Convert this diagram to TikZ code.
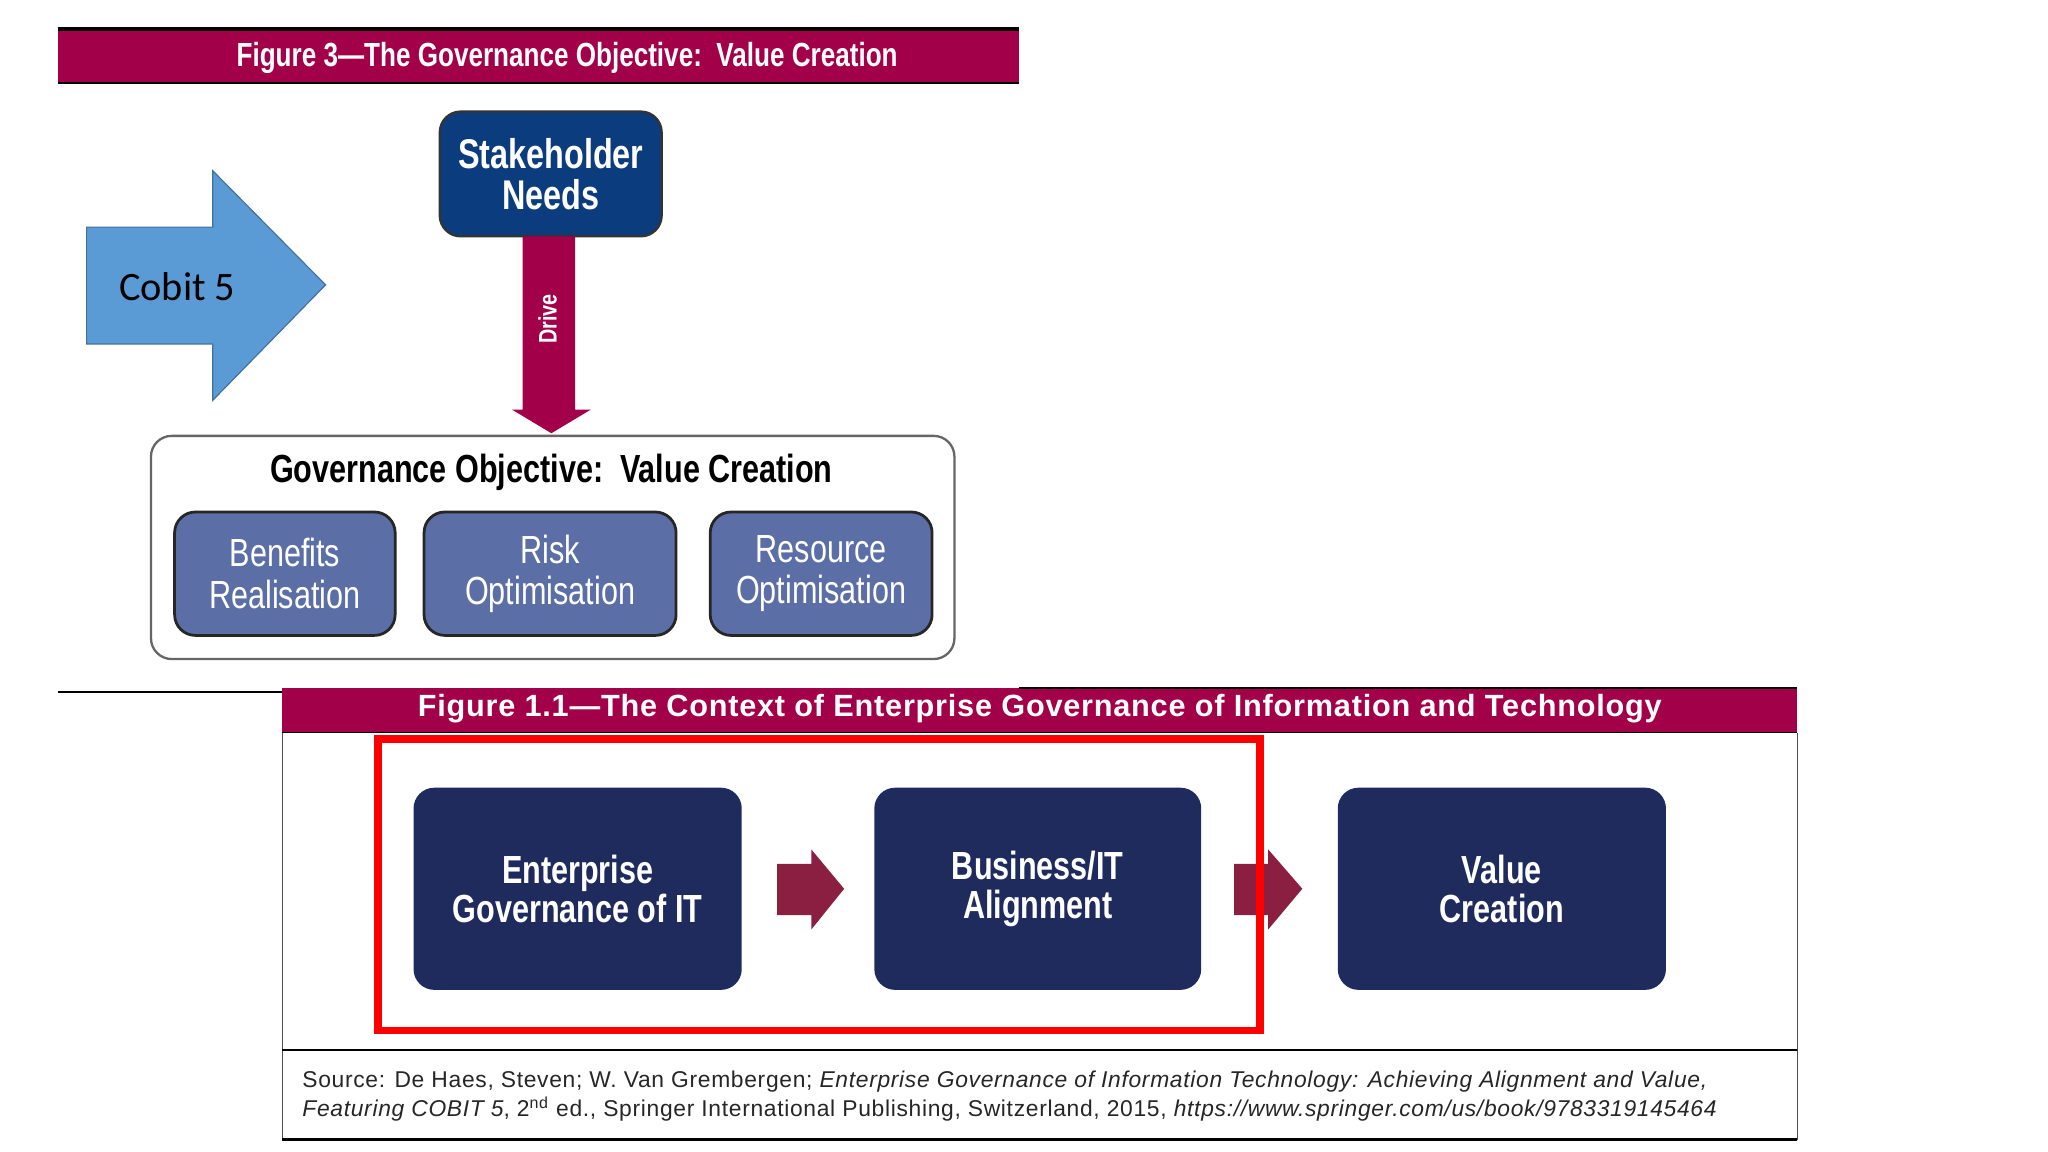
\documentclass[tikz,border=0pt]{standalone}
\usepackage{fontspec}
\setmainfont{Liberation Sans}
\newfontfamily\cond[FakeStretch=0.78]{Liberation Sans}
\newfontfamily\carl{Carlito}
\definecolor{crim}{HTML}{A3004A}
\definecolor{sblue}{HTML}{0B3C7E}
\definecolor{mblue}{HTML}{5B6FA6}
\definecolor{dnavy}{HTML}{1F2B5C}
\definecolor{cobitb}{HTML}{5B9BD5}
\definecolor{cobito}{HTML}{41719C}
\definecolor{darr}{HTML}{8B1F41}
\tikzset{
  sbox/.style={rounded corners=9pt,fill=mblue,draw=black!85,line width=1.2pt,text=white,align=center,font=\cond\fontsize{17}{18}\selectfont},
  nbox/.style={rounded corners=9pt,fill=dnavy,draw=none,text=white,align=center,font=\cond\bfseries\fontsize{17}{17}\selectfont},
  redarr/.style={fill=darr,draw=none}
}
\begin{document}
\begin{tikzpicture}[x=0.02cm,y=-0.02cm]
\useasboundingbox (0,0) rectangle (1560,877.5);
% top header
\fill[crim] (44,22) rectangle (776,63);
\draw[line width=1.6pt] (44,22) -- (776,22);
\draw[line width=1pt] (44,63) -- (776,63);
\node[text=white,font=\cond\bfseries\fontsize{14.5}{14.5}\selectfont] (t1) at (432,44) {Figure 3—The Governance Objective:\ \ Value Creation};
% cobit arrow
\draw[fill=cobitb,draw=cobito,line width=0.5pt] (66,173) -- (162,173) -- (162,130) -- (248,217) -- (162,305) -- (162,262) -- (66,262) -- cycle;
\node[font=\carl\fontsize{17.5}{17.5}\selectfont] (cob) at (135,218) {Cobit 5};
% stakeholder
\node[draw=black!80,line width=1pt,fill=sblue,rounded corners=9pt,minimum width=169*0.02cm,minimum height=95*0.02cm,text=white,align=center,font=\cond\bfseries\fontsize{18}{18}\selectfont] (sn) at (419.5,132.5) {Stakeholder\\Needs};
% drive arrow
\fill[crim] (398,180) -- (438,180) -- (438,312) -- (450,312) -- (420,330) -- (390,312) -- (398,312) -- cycle;
\node[rotate=90,text=white,font=\cond\bfseries\fontsize{11}{11}\selectfont] (drv) at (417,243) {Drive};
% big box
\draw[draw=black!60,line width=1pt,rounded corners=9pt,fill=white] (115,332) rectangle (727,502);
\node[font=\cond\bfseries\fontsize{17}{17}\selectfont] (go) at (420,360) {Governance Objective:\ \ Value Creation};
\node[sbox,minimum width=168*0.02cm,minimum height=94*0.02cm] (b1) at (217,437) {Benefits\\Realisation};
\node[sbox,minimum width=192*0.02cm,minimum height=94*0.02cm] (b2) at (419,437) {Risk\\Optimisation};
\node[sbox,minimum width=169*0.02cm,minimum height=94*0.02cm] (b3) at (625.5,437) {Resource\\Optimisation};
% separator line
\draw[line width=0.8pt] (44,527) -- (776,527);
% second header
\fill[crim] (215,524) rectangle (1369,558);
\draw[line width=1.2pt] (776,524) -- (1369,524);
\draw[line width=0.8pt] (215,558) -- (1369,558);
\node[text=white,font=\bfseries\fontsize{13.3}{13.3}\selectfont] (t2) at (792,540) {\addfontfeature{LetterSpace=2.5}Figure 1.1—The Context of Enterprise Governance of Information and Technology};
% frame
\draw[line width=0.6pt,black!70] (215,558) -- (215,868) (1369,558) -- (1369,868);
\draw[line width=1pt] (215,800) -- (1369,800);
\draw[line width=1pt] (215,868) -- (1369,868);
% navy boxes
\node[nbox,minimum width=250*0.02cm,minimum height=154*0.02cm] (n1) at (440,677) {Enterprise\\Governance of IT};
\node[nbox,minimum width=249*0.02cm,minimum height=154*0.02cm] (n2) at (790.5,677) {Business/IT\\Alignment};
\node[nbox,minimum width=250*0.02cm,minimum height=154*0.02cm] (n3) at (1144,677) {Value\\Creation};
% dark red arrows
\fill[redarr] (592,658) -- (618,658) -- (618,647) -- (643,677) -- (618,708) -- (618,697) -- (592,697) -- cycle;
\fill[redarr] (940,658) -- (966,658) -- (966,647) -- (992,677) -- (966,708) -- (966,697) -- (940,697) -- cycle;
% red highlight
\draw[red,line width=3.4pt] (288,563) rectangle (960,785);
% source
\node[anchor=west,inner sep=0pt,font=\fontsize{9.9}{9.9}\selectfont,text=black!85] (s1) at (230,824) {\addfontfeature{LetterSpace=3}Source: De Haes, Steven; W. Van Grembergen; \textit{Enterprise Governance of Information Technology: Achieving Alignment and Value,}};
\node[anchor=west,inner sep=0pt,font=\fontsize{9.9}{9.9}\selectfont,text=black!85] (s2) at (230,845) {\addfontfeature{LetterSpace=3}\textit{Featuring COBIT 5}, 2\textsuperscript{nd} ed., Springer International Publishing, Switzerland, 2015, \textit{https://www.springer.com/us/book/9783319145464}};
\end{tikzpicture}
\end{document}
